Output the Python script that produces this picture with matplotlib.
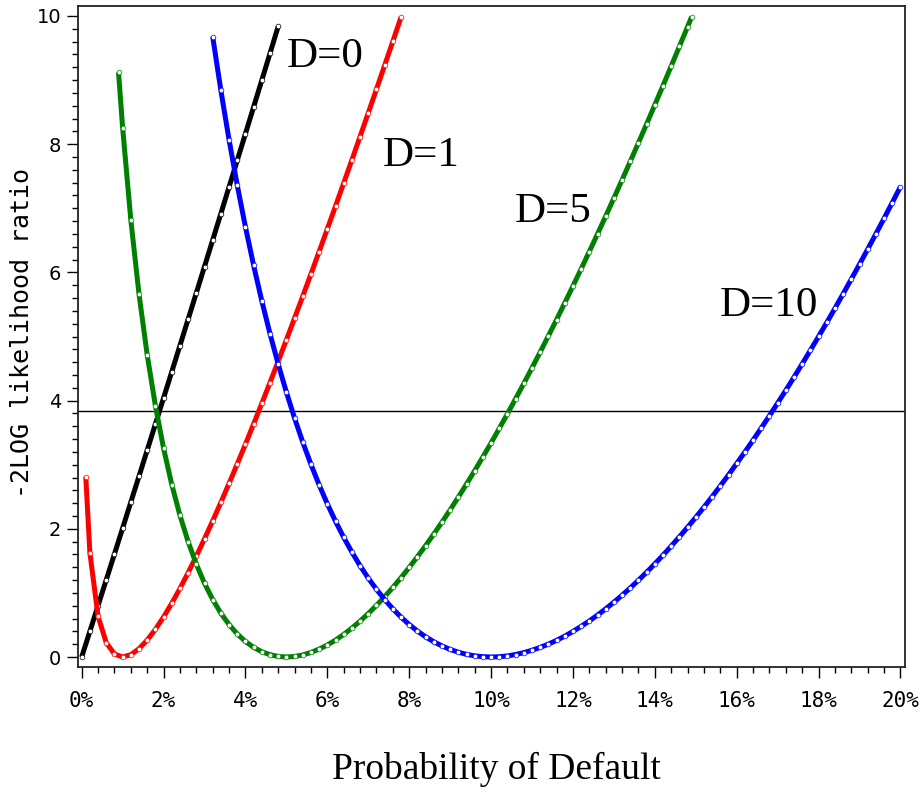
import matplotlib
matplotlib.use("Agg")
import matplotlib.pyplot as plt
from matplotlib.ticker import MultipleLocator, FuncFormatter

# ---------------- data ----------------
# Probability of default (%) and -2 log likelihood ratio for each observed default count D
x_d0 = [0.0, 0.2, 0.4, 0.6, 0.8, 1.0, 1.2, 1.4, 1.6, 1.8, 2.0, 2.2, 2.4, 2.6, 2.8,
        3.0, 3.2, 3.4, 3.6, 3.8, 4.0, 4.2, 4.4, 4.6, 4.8]
y_d0 = [0.000, 0.400, 0.802, 1.204, 1.606, 2.010, 2.415, 2.820, 3.226, 3.633, 4.041,
        4.449, 4.859, 5.269, 5.680, 6.092, 6.505, 6.918, 7.333, 7.748, 8.164, 8.582,
        8.999, 9.418, 9.838]

x_d1 = [0.1, 0.2, 0.4, 0.6, 0.8, 1.0, 1.2, 1.4, 1.6, 1.8, 2.0, 2.2, 2.4, 2.6, 2.8,
        3.0, 3.2, 3.4, 3.6, 3.8, 4.0, 4.2, 4.4, 4.6, 4.8, 5.0, 5.2, 5.4, 5.6, 5.8,
        6.0, 6.2, 6.4, 6.6, 6.8, 7.0, 7.2, 7.4, 7.6, 7.8]
y_d1 = [2.813, 1.625, 0.636, 0.223, 0.047, 0.000, 0.036, 0.129, 0.264, 0.431, 0.624,
        0.838, 1.069, 1.315, 1.574, 1.844, 2.123, 2.412, 2.708, 3.011, 3.320, 3.636,
        3.956, 4.282, 4.613, 4.947, 5.286, 5.629, 5.975, 6.325, 6.678, 7.034, 7.393,
        7.755, 8.120, 8.487, 8.857, 9.230, 9.604, 9.981]

x_d5 = [0.9, 1.0, 1.2, 1.4, 1.6, 1.8, 2.0, 2.2, 2.4, 2.6, 2.8, 3.0, 3.2, 3.4, 3.6,
        3.8, 4.0, 4.2, 4.4, 4.6, 4.8, 5.0, 5.2, 5.4, 5.6, 5.8, 6.0, 6.2, 6.4, 6.6,
        6.8, 7.0, 7.2, 7.4, 7.6, 7.8, 8.0, 8.2, 8.4, 8.6, 8.8, 9.0, 9.2, 9.4, 9.6,
        9.8, 10.0, 10.2, 10.4, 10.6, 10.8, 11.0, 11.2, 11.4, 11.6, 11.8, 12.0, 12.2,
        12.4, 12.6, 12.8, 13.0, 13.2, 13.4, 13.6, 13.8, 14.0, 14.2, 14.4, 14.6, 14.8,
        14.9]
y_d5 = [9.120, 8.258, 6.819, 5.663, 4.713, 3.922, 3.256, 2.691, 2.210, 1.799, 1.448,
        1.150, 0.897, 0.683, 0.506, 0.359, 0.242, 0.150, 0.082, 0.036, 0.009, 0.000,
        0.008, 0.032, 0.071, 0.123, 0.187, 0.264, 0.352, 0.451, 0.560, 0.678, 0.805,
        0.941, 1.085, 1.237, 1.397, 1.563, 1.737, 1.917, 2.103, 2.295, 2.494, 2.698,
        2.907, 3.122, 3.341, 3.566, 3.795, 4.030, 4.268, 4.511, 4.758, 5.010, 5.265,
        5.525, 5.788, 6.055, 6.326, 6.600, 6.878, 7.159, 7.444, 7.732, 8.023, 8.317,
        8.615, 8.915, 9.219, 9.525, 9.834, 9.990]

x_d10 = [3.2, 3.4, 3.6, 3.8, 4.0, 4.2, 4.4, 4.6, 4.8, 5.0, 5.2, 5.4, 5.6, 5.8, 6.0,
         6.2, 6.4, 6.6, 6.8, 7.0, 7.2, 7.4, 7.6, 7.8, 8.0, 8.2, 8.4, 8.6, 8.8, 9.0,
         9.2, 9.4, 9.6, 9.8, 10.0, 10.2, 10.4, 10.6, 10.8, 11.0, 11.2, 11.4, 11.6,
         11.8, 12.0, 12.2, 12.4, 12.6, 12.8, 13.0, 13.2, 13.4, 13.6, 13.8, 14.0, 14.2,
         14.4, 14.6, 14.8, 15.0, 15.2, 15.4, 15.6, 15.8, 16.0, 16.2, 16.4, 16.6, 16.8,
         17.0, 17.2, 17.4, 17.6, 17.8, 18.0, 18.2, 18.4, 18.6, 18.8, 19.0, 19.2, 19.4,
         19.6, 19.8, 20.0]
y_d10 = [9.678, 8.838, 8.068, 7.360, 6.709, 6.108, 5.554, 5.042, 4.569, 4.131, 3.726,
         3.351, 3.005, 2.685, 2.389, 2.117, 1.866, 1.636, 1.424, 1.231, 1.055, 0.896,
         0.752, 0.622, 0.507, 0.405, 0.315, 0.238, 0.173, 0.118, 0.075, 0.041, 0.018,
         0.005, 0.000, 0.004, 0.017, 0.039, 0.068, 0.105, 0.150, 0.201, 0.260, 0.326,
         0.399, 0.478, 0.563, 0.654, 0.752, 0.855, 0.964, 1.078, 1.198, 1.323, 1.454,
         1.589, 1.730, 1.875, 2.025, 2.179, 2.338, 2.502, 2.670, 2.842, 3.019, 3.199,
         3.384, 3.573, 3.765, 3.962, 4.162, 4.366, 4.574, 4.786, 5.001, 5.219, 5.441,
         5.667, 5.896, 6.128, 6.363, 6.602, 6.844, 7.090, 7.338]

critical_value = 3.84

series_labels = ["D=0", "D=1", "D=5", "D=10"]
label_x = [5.01, 7.36, 10.58, 15.59]
label_y = [9.20, 7.66, 6.79, 5.32]

x_title = "Probability of Default"
y_title = "-2LOG likelihood ratio"

# ---------------- figure ----------------
W, H = 921, 787
fig = plt.figure(figsize=(W / 100, H / 100), dpi=100)
L, R, T, B = 78, 905, 6, 667
ax = fig.add_axes([L / W, 1 - B / H, (R - L) / W, (B - T) / H])

ax.set_xlim(-0.09, 20.11)
ax.set_ylim(-0.156, 10.156)

ax.axhline(critical_value, color="black", lw=1.0, zorder=1)

series = [
    (x_d0, y_d0, "#000000"),
    (x_d1, y_d1, "#ff0000"),
    (x_d5, y_d5, "#008000"),
    (x_d10, y_d10, "#0000ff"),
]
for xs, ys, c in series:
    ax.plot(xs, ys, color=c, lw=3.6, solid_capstyle="butt", zorder=2,
            marker="o", ms=3.4, mfc="white", mec=c, mew=0.5)

for txt, tx, ty in zip(series_labels, label_x, label_y):
    ax.text(tx, ty, txt, fontsize=31, family="Liberation Serif",
            ha="left", va="baseline", color="black")

ax.xaxis.set_major_locator(MultipleLocator(2))
ax.xaxis.set_minor_locator(MultipleLocator(0.4))
ax.yaxis.set_major_locator(MultipleLocator(2))
ax.yaxis.set_minor_locator(MultipleLocator(0.2))
ax.xaxis.set_major_formatter(FuncFormatter(lambda v, p: f"{int(round(v))}%"))
ax.yaxis.set_major_formatter(FuncFormatter(lambda v, p: f"{int(round(v))}"))

ax.tick_params(axis="both", which="major", direction="out", length=8, width=1.0,
               colors="black", labelsize=14)
ax.tick_params(axis="both", which="minor", direction="out", length=4.5, width=1.0,
               colors="black")
ax.tick_params(axis="x", which="major", pad=9, labelsize=15)
ax.tick_params(axis="y", which="major", pad=4)
for lab in ax.get_xticklabels():
    lab.set_family("DejaVu Sans Mono")

for s in ax.spines.values():
    s.set_linewidth(1.3)
    s.set_color("#222222")

fig.text(496 / W, 1 - 779 / H, x_title, ha="center", va="baseline",
         fontsize=27, family="Liberation Serif")
fig.text(22 / W, 1 - 333 / H, y_title, ha="center", va="center", rotation=90,
         fontsize=18, family="DejaVu Sans Mono")

fig.savefig("out.png", dpi=100)
